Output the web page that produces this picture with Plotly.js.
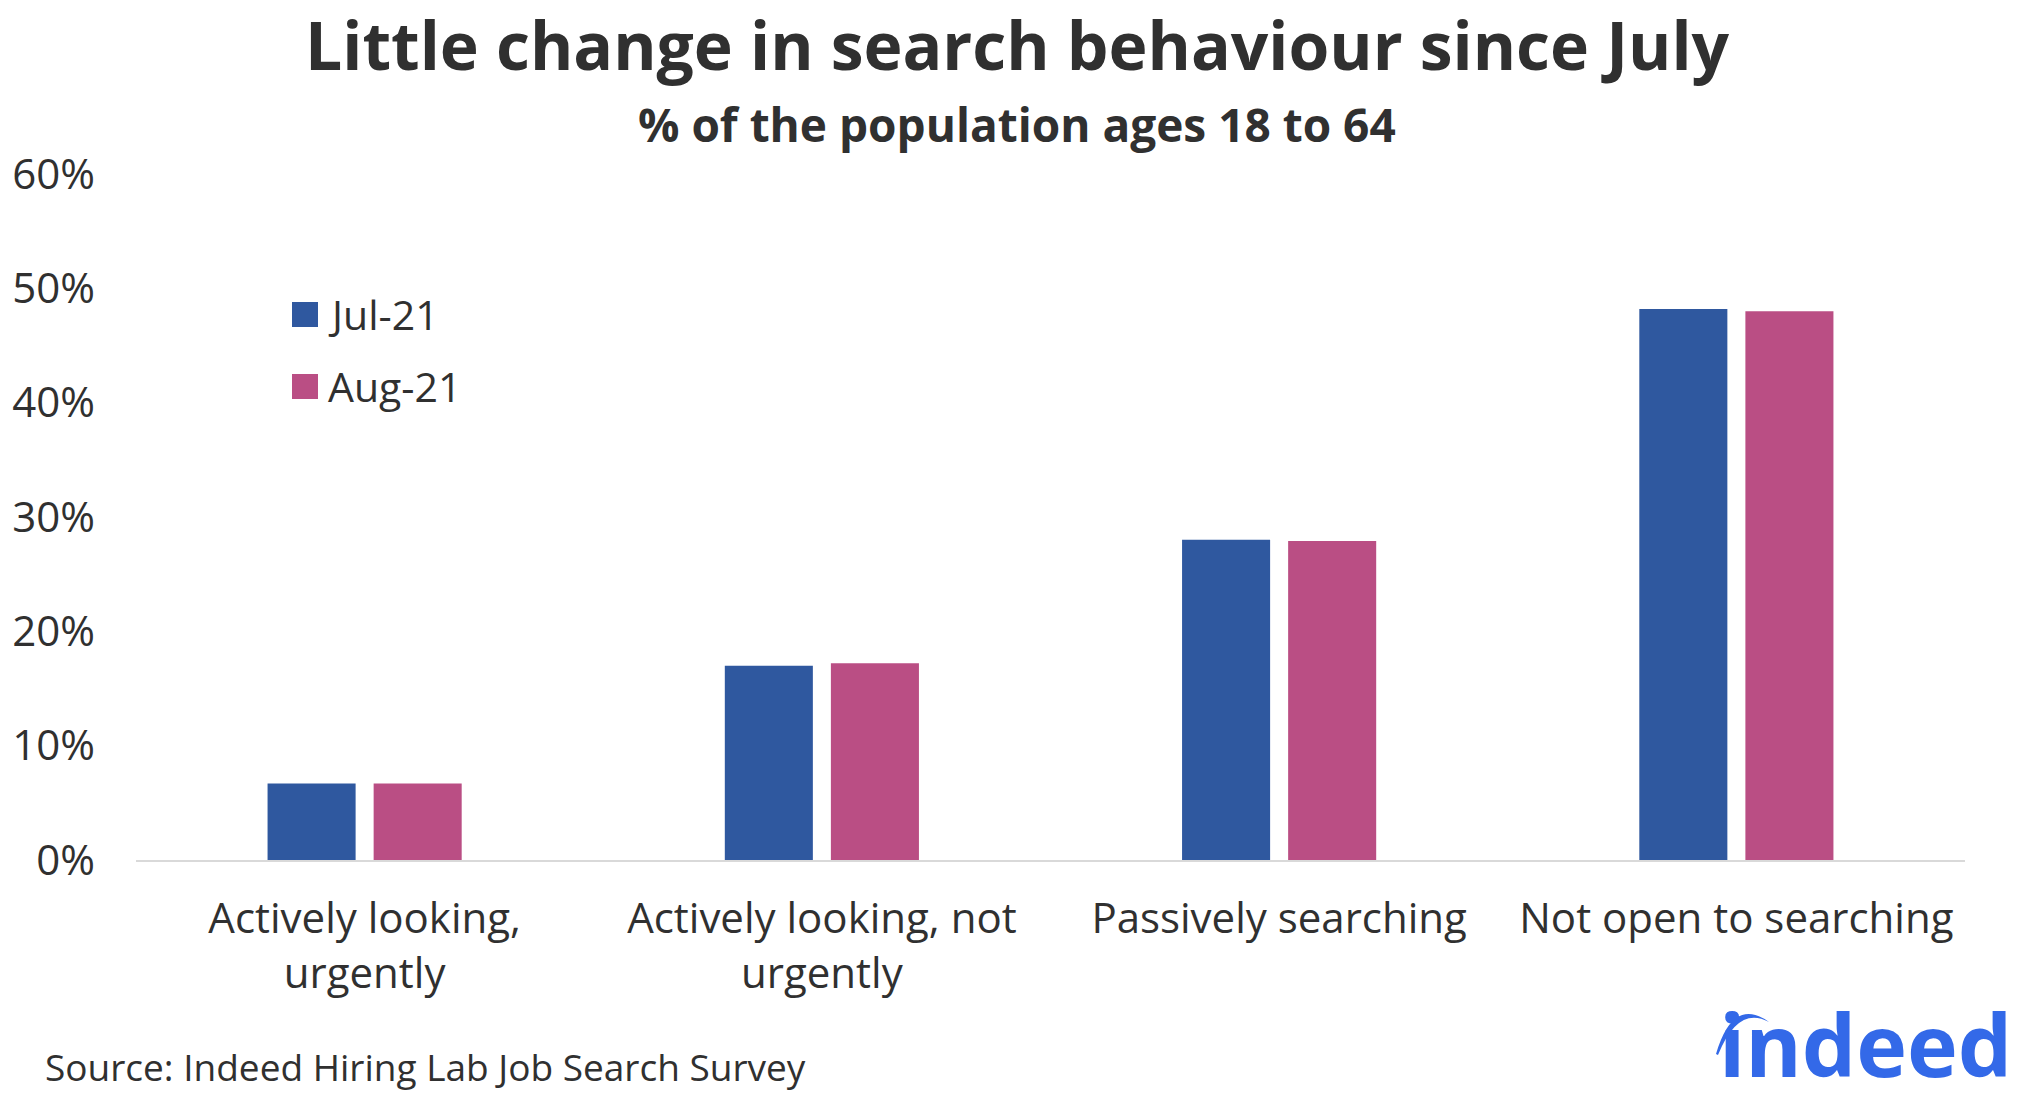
<!DOCTYPE html>
<html>
<head>
<meta charset="utf-8">
<script src="https://cdn.plot.ly/plotly-3.0.1.min.js"></script>
<style>
  html, body { margin: 0; padding: 0; background: #ffffff; }
  #chart { width: 2024px; height: 1104px; }
</style>
</head>
<body>
<div id="chart"></div>
<script>
// ---- data ----
var categories = [
  "Actively looking,<br>urgently",
  "Actively looking, not<br>urgently",
  "Passively searching",
  "Not open to searching"
];
var seriesNames = ["Jul-21", "Aug-21"];
var jul21 = [0.067, 0.170, 0.280, 0.482];
var aug21 = [0.067, 0.172, 0.279, 0.480];
var yTickVals = [0, 0.1, 0.2, 0.3, 0.4, 0.5, 0.6];
var titleText = "Little change in search behaviour since July";
var subtitleText = "% of the population ages 18 to 64";
var sourceText = "Source: Indeed Hiring Lab Job Search Survey";
var logoText = "indeed";

// ---- styling ----
var colors = ["#2F589F", "#BA4E84"];
var textColor = "#303030";
var font = "Open Sans, Noto Sans, sans-serif";

var W = 2024, H = 1104;
var M = {l: 136, r: 59, t: 174, b: 244};
var PW = W - M.l - M.r, PH = H - M.t - M.b;
function px(x) { return (x - M.l) / PW; }
function py(y) { return (H - M.b - y) / PH; }

var traces = [
  {type: "bar", name: seriesNames[0], x: categories, y: jul21,
   marker: {color: colors[0]}, showlegend: false, hoverinfo: "none"},
  {type: "bar", name: seriesNames[1], x: categories, y: aug21,
   marker: {color: colors[1]}, showlegend: false, hoverinfo: "none"}
];

// manual legend (large squares as in reference)
var legendShapes = [], legendAnn = [];
var legendRows = [{top: 302, mid: 314}, {top: 374, mid: 386}];
seriesNames.forEach(function (n, i) {
  legendShapes.push({type: "rect", xref: "paper", yref: "paper",
    x0: px(292), x1: px(318), y0: py(legendRows[i].top + 25), y1: py(legendRows[i].top),
    fillcolor: colors[i], line: {width: 0}});
  legendAnn.push({xref: "paper", yref: "paper", x: px(326), y: py(legendRows[i].mid),
    xanchor: "left", yanchor: "middle", showarrow: false, text: n,
    font: {family: font, size: 41, color: textColor}});
});

// logo arc
function P(x, y) { return px(x).toFixed(5) + "," + py(y).toFixed(5); }
var arcPath = "M" + P(1716, 1054) + " Q" + P(1733, 996) + " " + P(1769, 1022) +
              " Q" + P(1738, 1005) + " " + P(1718, 1055) + " Z";

var layout = {
  width: W, height: H,
  margin: M,
  paper_bgcolor: "#ffffff", plot_bgcolor: "#ffffff",
  barmode: "group", bargap: 0.536, bargroupgap: 0.17,
  title: {
    text: titleText,
    font: {family: font, size: 66, color: textColor, weight: 700},
    x: 0.5025, xref: "container", xanchor: "center",
    y: 1 - 47 / H, yref: "container", yanchor: "middle"
  },
  xaxis: {
    type: "category",
    showline: true, linecolor: "#D9D9D9", linewidth: 2,
    showgrid: false, zeroline: false, ticks: "",
    tickfont: {family: font, size: 42, color: textColor},
    ticklabelstandoff: 21
  },
  yaxis: {
    range: [0, 0.6], tickvals: yTickVals, tickformat: ".0%",
    showgrid: false, zeroline: false, showline: false, ticks: "",
    tickfont: {family: font, size: 42, color: textColor},
    ticklabelstandoff: 40
  },
  shapes: legendShapes.concat([
    {type: "path", xref: "paper", yref: "paper", path: arcPath,
     fillcolor: "#3369E8", line: {width: 0}}
  ]),
  annotations: legendAnn.concat([
    {xref: "paper", yref: "paper", x: px(1017), y: py(124),
     xanchor: "center", yanchor: "middle", showarrow: false, text: subtitleText,
     font: {family: font, size: 46, color: textColor, weight: 700}},
    {xref: "paper", yref: "paper", x: px(43), y: py(1066),
     xanchor: "left", yanchor: "middle", showarrow: false, text: sourceText,
     font: {family: font, size: 37, color: textColor}},
    {xref: "paper", yref: "paper", x: px(2014), y: py(1043),
     xanchor: "right", yanchor: "middle", showarrow: false, text: logoText,
     font: {family: font, size: 86, color: "#3369E8", weight: 700}}
  ])
};

Plotly.newPlot("chart", traces, layout, {displayModeBar: false, staticPlot: true});
</script>
</body>
</html>
